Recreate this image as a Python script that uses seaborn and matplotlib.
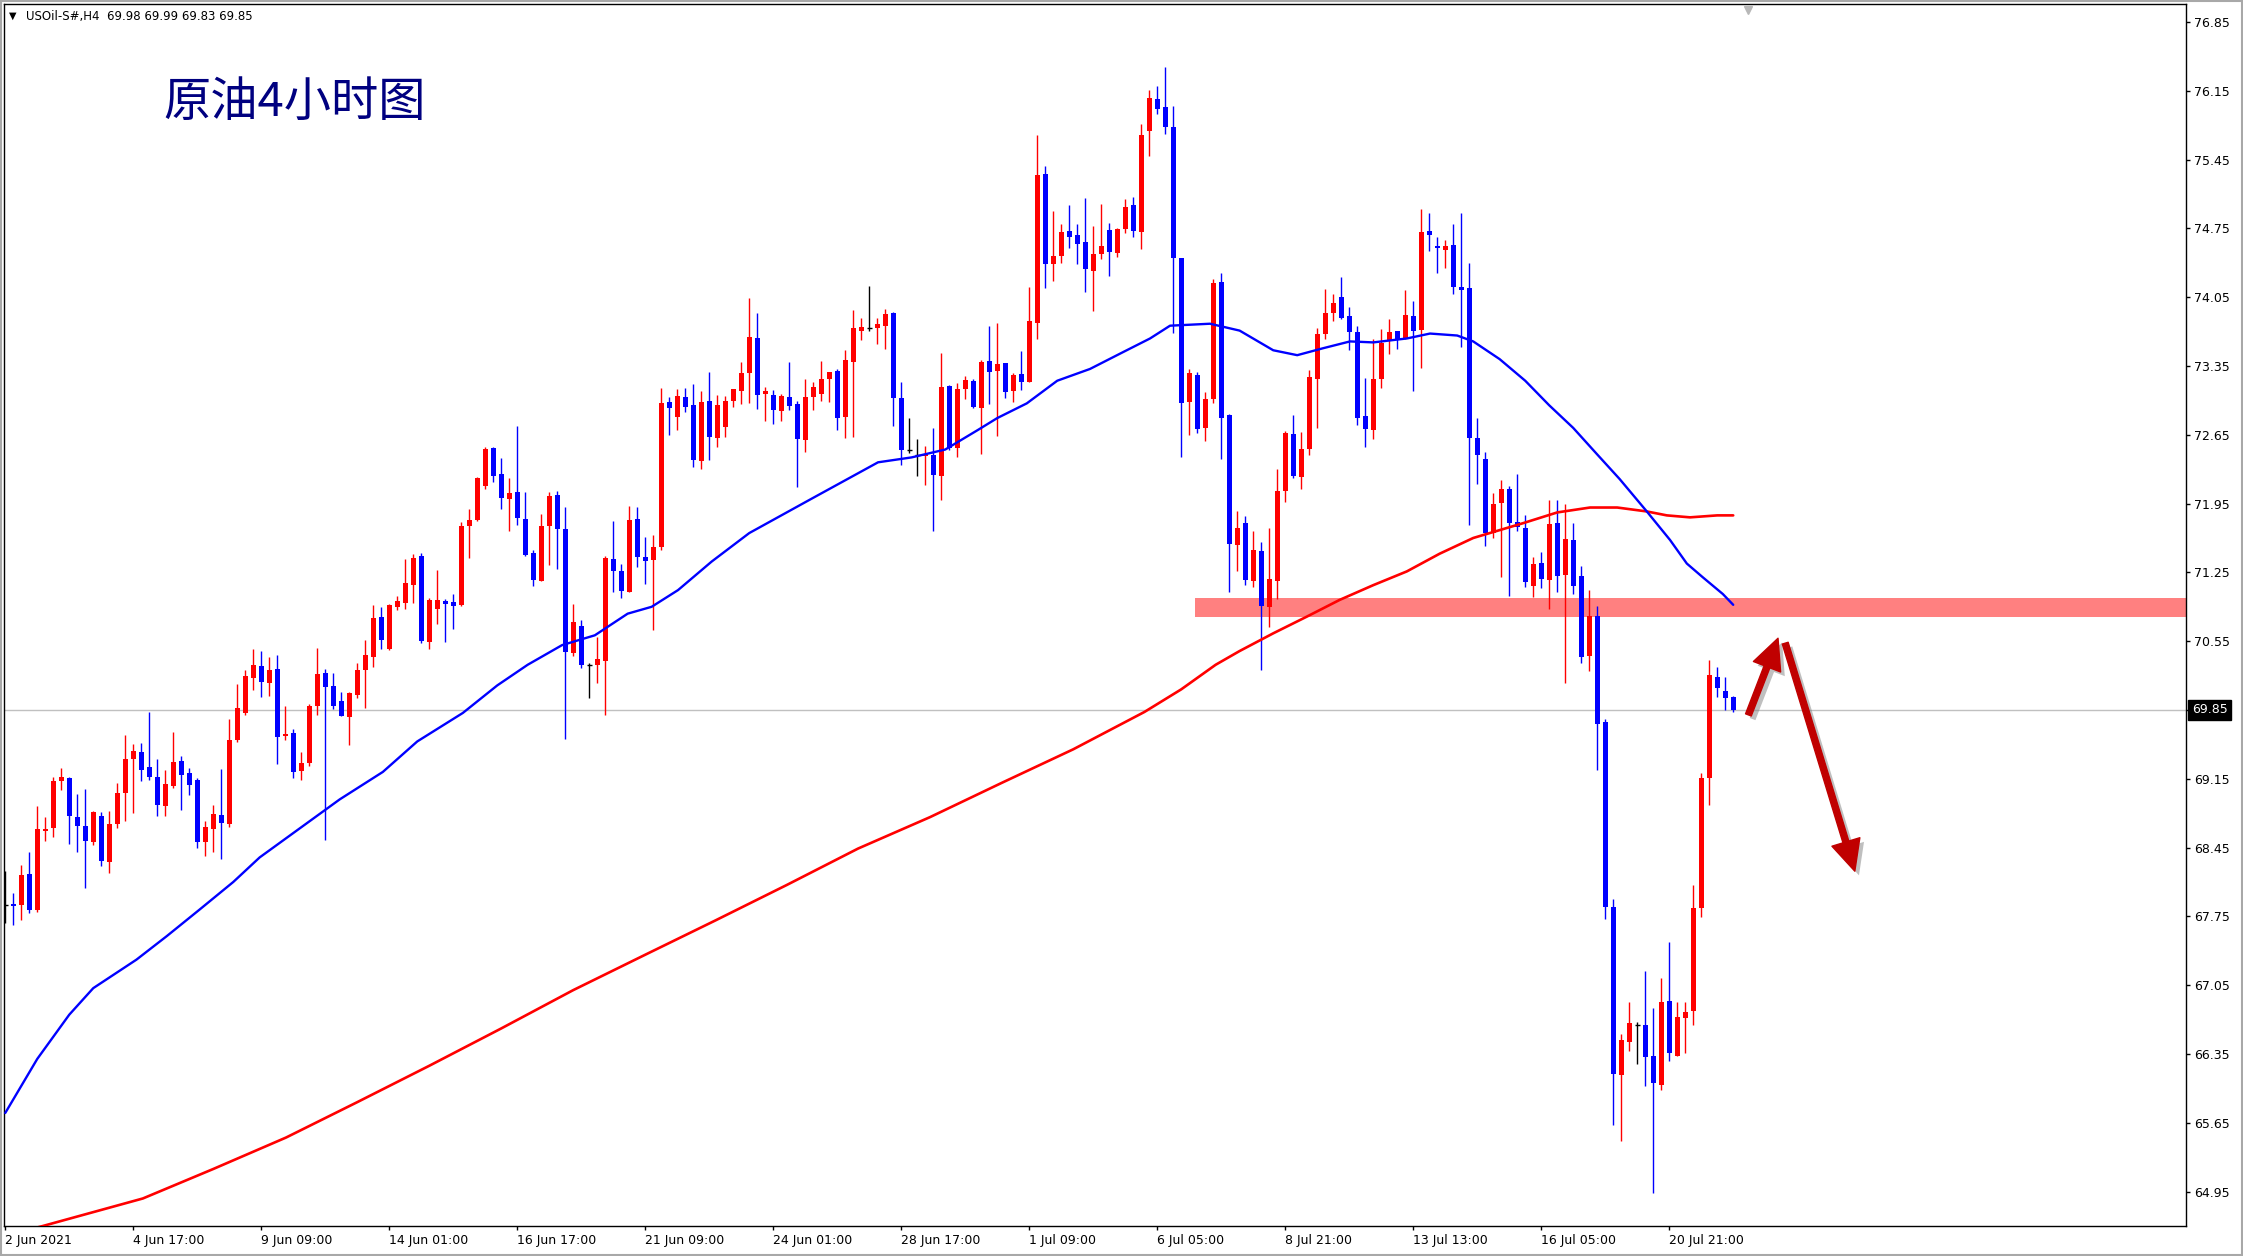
import numpy as np
import pandas as pd
import matplotlib
matplotlib.use("Agg")
import matplotlib.pyplot as plt
import matplotlib.patheffects as pe
from matplotlib.patches import Rectangle
from matplotlib.transforms import blended_transform_factory
import seaborn as sns

# H4 candles, USOil, 2 Jun 2021 -> 22 Jul 2021
opens = [
    67.87, 67.88, 67.87, 68.18, 67.82, 68.62, 68.65, 69.13, 69.16, 68.76,
    68.67, 68.51, 68.77, 68.30, 68.69, 69.01, 69.35, 69.42, 69.27, 69.17,
    68.87, 69.08, 69.33, 69.21, 69.14, 68.51, 68.64, 68.78, 68.69, 69.54,
    69.82, 70.18, 70.30, 70.12, 70.27, 69.59, 69.62, 69.23, 69.31, 69.89,
    70.23, 70.09, 69.94, 69.78, 70.00, 70.26, 70.39, 70.80, 70.47, 70.90,
    70.94, 71.12, 71.42, 70.54, 70.88, 70.96, 70.95, 70.92, 71.72, 71.78,
    72.13, 72.52, 72.25, 72.00, 72.07, 71.79, 71.45, 71.16, 71.72, 72.04,
    71.69, 70.43, 70.70, 70.31, 70.31, 70.35, 71.39, 71.26, 71.05, 71.79,
    71.41, 71.38, 71.51, 72.98, 72.83, 73.03, 72.95, 72.38, 72.99, 72.62,
    72.73, 72.99, 73.10, 73.28, 73.63, 73.06, 73.05, 72.89, 73.03, 72.96,
    72.60, 73.03, 73.07, 73.22, 73.30, 72.83, 73.39, 73.71, 73.74, 73.74,
    73.76, 73.89, 73.02, 72.50, 72.44, 72.43, 72.44, 72.23, 73.15, 72.52,
    73.12, 73.20, 72.92, 73.40, 73.30, 73.38, 73.10, 73.27, 73.19, 73.79,
    75.30, 74.39, 74.47, 74.72, 74.68, 74.61, 74.32, 74.49, 74.73, 74.50,
    74.74, 74.99, 74.71, 75.74, 76.07, 75.98, 75.78, 74.45, 72.98, 73.26,
    72.72, 73.01, 74.20, 72.85, 71.53, 71.75, 71.16, 71.47, 70.90, 71.16,
    72.08, 72.66, 72.22, 72.51, 73.22, 73.68, 73.89, 74.05, 73.86, 73.70,
    72.84, 72.70, 73.22, 73.61, 73.71, 73.63, 73.86, 73.72, 74.72, 74.57,
    74.53, 74.58, 74.15, 74.14, 72.62, 72.40, 71.65, 71.96, 72.10, 71.76,
    71.70, 71.11, 71.35, 71.17, 71.75, 71.22, 71.58, 71.21, 70.40, 70.81,
    69.73, 67.85, 66.14, 66.47, 66.65, 66.64, 66.33, 66.03, 66.89, 66.33,
    66.72, 66.79, 67.84, 69.16, 70.19, 70.04, 69.98,
]
highs = [
    68.21, 67.99, 68.27, 68.41, 68.87, 68.76, 69.17, 69.26, 69.17, 69.00,
    69.05, 68.82, 68.81, 68.82, 69.11, 69.60, 69.50, 69.51, 69.83, 69.35,
    69.24, 69.63, 69.38, 69.26, 69.16, 68.72, 68.88, 69.25, 69.76, 70.11,
    70.26, 70.47, 70.45, 70.39, 70.41, 69.89, 69.66, 69.42, 69.91, 70.48,
    70.27, 70.23, 70.03, 70.03, 70.33, 70.56, 70.92, 70.90, 70.93, 71.01,
    71.39, 71.44, 71.45, 70.99, 71.27, 70.98, 71.03, 71.76, 71.89, 72.22,
    72.53, 72.53, 72.41, 72.21, 72.74, 72.07, 71.48, 71.84, 72.07, 72.08,
    71.92, 70.93, 70.77, 70.33, 70.59, 71.42, 71.77, 71.34, 71.93, 71.92,
    71.61, 71.63, 73.13, 73.03, 73.12, 73.13, 73.17, 73.10, 73.29, 73.05,
    73.04, 73.12, 73.39, 74.04, 73.89, 73.14, 73.11, 73.07, 73.39, 72.99,
    73.22, 73.19, 73.40, 73.29, 73.32, 73.51, 73.92, 73.84, 74.16, 73.84,
    73.93, 73.90, 73.19, 72.82, 72.61, 72.54, 72.72, 73.48, 73.16, 73.18,
    73.25, 73.22, 73.41, 73.76, 73.79, 73.38, 73.28, 73.50, 74.15, 75.70,
    75.38, 74.93, 74.79, 74.99, 74.79, 75.06, 74.77, 75.00, 74.80, 74.75,
    75.05, 75.07, 75.81, 76.16, 76.20, 76.39, 76.00, 74.45, 73.32, 73.29,
    73.09, 74.23, 74.30, 72.86, 71.87, 71.82, 71.67, 71.56, 71.70, 72.30,
    72.69, 72.85, 72.68, 73.31, 73.74, 74.13, 74.08, 74.26, 73.95, 73.76,
    73.23, 73.62, 73.73, 73.83, 73.71, 74.12, 74.01, 74.95, 74.91, 74.66,
    74.63, 74.79, 74.91, 74.40, 72.82, 72.47, 72.06, 72.19, 72.13, 72.25,
    71.83, 71.41, 71.46, 71.99, 71.99, 71.95, 71.75, 71.32, 71.07, 70.91,
    69.76, 67.93, 66.55, 66.88, 66.68, 67.19, 66.82, 67.12, 67.49, 66.88,
    66.88, 68.07, 69.21, 70.36, 70.29, 70.19, 69.99,
]
lows = [
    67.68, 67.66, 67.71, 67.78, 67.79, 68.52, 68.56, 69.04, 68.49, 68.41,
    68.04, 68.48, 68.26, 68.19, 68.65, 68.72, 68.80, 69.13, 69.14, 68.77,
    68.77, 69.06, 68.83, 68.99, 68.45, 68.36, 68.41, 68.33, 68.66, 69.52,
    69.80, 70.05, 69.98, 69.99, 69.30, 69.54, 69.16, 69.14, 69.28, 69.80,
    68.53, 69.86, 69.79, 69.49, 69.97, 69.87, 70.29, 70.47, 70.46, 70.87,
    70.88, 70.94, 70.53, 70.47, 70.72, 70.54, 70.67, 70.91, 71.40, 71.77,
    72.10, 72.17, 71.89, 71.67, 71.73, 71.42, 71.11, 71.16, 71.33, 71.28,
    69.55, 70.40, 70.28, 69.97, 70.12, 69.80, 71.05, 70.99, 71.05, 71.30,
    71.13, 70.66, 71.48, 72.65, 72.70, 72.88, 72.32, 72.30, 72.39, 72.53,
    72.63, 72.93, 72.96, 72.97, 72.91, 72.79, 72.76, 72.79, 72.90, 72.12,
    72.47, 72.90, 72.99, 72.98, 72.70, 72.62, 72.63, 73.61, 73.71, 73.57,
    73.52, 72.74, 72.34, 72.46, 72.23, 72.14, 71.67, 71.99, 72.50, 72.42,
    73.01, 72.92, 72.45, 72.96, 72.64, 73.02, 72.98, 73.11, 73.19, 73.62,
    74.14, 74.21, 74.40, 74.55, 74.39, 74.10, 73.91, 74.44, 74.27, 74.46,
    74.70, 74.66, 74.54, 75.49, 75.91, 75.71, 73.69, 72.42, 72.65, 72.67,
    72.59, 72.97, 72.40, 71.05, 71.26, 71.12, 71.10, 70.26, 70.69, 70.98,
    71.97, 72.21, 72.10, 72.44, 72.72, 73.62, 73.81, 73.83, 73.51, 72.75,
    72.53, 72.61, 73.13, 73.47, 73.52, 73.62, 73.10, 73.33, 74.52, 74.30,
    74.35, 74.08, 73.54, 71.73, 72.15, 71.52, 71.60, 71.20, 71.01, 71.67,
    71.10, 71.00, 71.09, 70.88, 71.05, 70.12, 71.03, 70.33, 70.25, 69.24,
    67.72, 65.63, 65.46, 66.38, 66.25, 66.02, 64.94, 65.98, 66.28, 66.33,
    66.36, 66.65, 67.74, 68.88, 69.98, 69.85, 69.83,
]
closes = [
    67.87, 67.86, 68.17, 67.81, 68.64, 68.64, 69.13, 69.17, 68.77, 68.67,
    68.52, 68.81, 68.31, 68.69, 69.01, 69.35, 69.43, 69.24, 69.17, 68.88,
    69.10, 69.32, 69.19, 69.09, 68.51, 68.66, 68.79, 68.70, 69.54, 69.87,
    70.20, 70.31, 70.13, 70.26, 69.58, 69.61, 69.22, 69.31, 69.89, 70.22,
    70.08, 69.89, 69.79, 70.02, 70.26, 70.41, 70.79, 70.56, 70.92, 70.96,
    71.14, 71.40, 70.55, 70.97, 70.97, 70.93, 70.91, 71.72, 71.78, 72.21,
    72.51, 72.23, 72.01, 72.06, 71.80, 71.43, 71.17, 71.72, 72.03, 71.69,
    70.44, 70.75, 70.31, 70.31, 70.37, 71.40, 71.26, 71.06, 71.78, 71.41,
    71.37, 71.51, 72.97, 72.92, 73.04, 72.93, 72.39, 72.98, 72.63, 72.95,
    72.99, 73.12, 73.28, 73.64, 73.05, 73.10, 72.90, 73.04, 72.94, 72.61,
    73.03, 73.14, 73.22, 73.29, 72.82, 73.41, 73.74, 73.75, 73.74, 73.78,
    73.88, 73.02, 72.50, 72.50, 72.44, 72.45, 72.24, 73.14, 72.52, 73.12,
    73.21, 72.93, 73.39, 73.29, 73.37, 73.09, 73.26, 73.19, 73.81, 75.29,
    74.39, 74.47, 74.71, 74.66, 74.59, 74.34, 74.49, 74.57, 74.51, 74.74,
    74.97, 74.72, 75.70, 76.08, 75.96, 75.78, 74.45, 72.97, 73.28, 72.71,
    73.01, 74.19, 72.82, 71.54, 71.70, 71.17, 71.48, 70.91, 71.18, 72.08,
    72.67, 72.23, 72.51, 73.24, 73.68, 73.89, 73.99, 73.84, 73.70, 72.82,
    72.71, 73.22, 73.58, 73.70, 73.62, 73.87, 73.71, 74.71, 74.68, 74.55,
    74.57, 74.15, 74.12, 72.62, 72.44, 71.65, 71.95, 72.10, 71.75, 71.71,
    71.15, 71.34, 71.18, 71.74, 71.21, 71.59, 71.11, 70.39, 70.81, 69.71,
    67.85, 66.15, 66.49, 66.67, 66.65, 66.32, 66.05, 66.88, 66.36, 66.73,
    66.78, 67.84, 69.16, 70.21, 70.07, 69.97, 69.85,
]

# moving averages, sampled along the drawn lines (bar index, price)
ma_fast_idx = [0, 4, 8, 11, 16.4, 20.2, 24.3, 28.5, 31.8, 41.8, 47.2, 51.5, 57.2, 61.5,
               65.3, 69.6, 73.7, 77.8, 80.8, 84.1, 88.3, 93, 100.8, 109.1, 113.3, 117.5,
               121.6, 124, 127.7, 131.5, 135.6, 139.7, 143.1, 145.6, 150.6, 154.3, 158.5,
               161.5, 164.7, 168.1, 171, 175.2, 178.1, 181.5, 183.5, 186.8, 190, 193, 196,
               199, 201.8, 205.2, 208.1, 210.2, 212.2, 214.7, 216]
ma_fast_val = [65.75, 66.30, 66.75, 67.02, 67.31, 67.55, 67.82, 68.10, 68.35, 68.94, 69.22,
               69.53, 69.82, 70.10, 70.31, 70.51, 70.61, 70.83, 70.90, 71.07, 71.36, 71.65,
               72.00, 72.37, 72.42, 72.50, 72.70, 72.82, 72.97, 73.20, 73.32, 73.49, 73.63,
               73.76, 73.78, 73.71, 73.51, 73.46, 73.53, 73.60, 73.59, 73.63, 73.68, 73.66,
               73.60, 73.42, 73.20, 72.95, 72.72, 72.45, 72.20, 71.87, 71.58, 71.34, 71.20,
               71.03, 70.92]
ma_slow_idx = [0, 4.7, 17.2, 26, 35.1, 44, 53, 62, 71, 80, 88.8, 97.7, 106.6, 115.6, 124.6,
               133.5, 142.4, 147, 151.3, 154.3, 158.5, 162.7, 166.8, 171, 175.2, 179.3,
               183.5, 186.8, 189.7, 194, 198.1, 201.5, 205.2, 207.7, 210.6, 214, 216]
ma_slow_val = [64.50, 64.60, 64.88, 65.18, 65.50, 65.86, 66.23, 66.61, 67.00, 67.36, 67.71,
               68.07, 68.44, 68.76, 69.11, 69.45, 69.83, 70.06, 70.31, 70.45, 70.63, 70.80,
               70.97, 71.12, 71.26, 71.44, 71.60, 71.68, 71.75, 71.86, 71.91, 71.91, 71.87,
               71.83, 71.81, 71.83, 71.83]

x_tick_idx = [0, 16, 32, 48, 64, 80, 96, 112, 128, 144, 160, 176, 192, 208]
x_tick_labels = ["2 Jun 2021", "4 Jun 17:00", "9 Jun 09:00", "14 Jun 01:00",
                 "16 Jun 17:00", "21 Jun 09:00", "24 Jun 01:00", "28 Jun 17:00",
                 "1 Jul 09:00", "6 Jul 05:00", "8 Jul 21:00", "13 Jul 13:00",
                 "16 Jul 05:00", "20 Jul 21:00"]
price_ticks = [64.95, 65.65, 66.35, 67.05, 67.75, 68.45, 69.15, 69.85,
               70.55, 71.25, 71.95, 72.65, 73.35, 74.05, 74.75, 75.45, 76.15, 76.85]

last_price = 69.85
zone_low, zone_high, zone_start = 70.80, 70.99, 148.7

sns.set_theme(style="white")
plt.rcParams["font.family"] = ["DejaVu Sans", "Noto Sans CJK SC"]

df = pd.DataFrame({"open": opens, "high": highs, "low": lows, "close": closes})
df["idx"] = np.arange(len(df))
df["color"] = np.where(df["close"] > df["open"], "#FF0000",
                       np.where(df["close"] < df["open"], "#0000FF", "#000000"))

fig = plt.figure(figsize=(22.43, 12.56), dpi=100)
ax = fig.add_axes([0.00192, 0.02389, 0.97267, 0.97269])

# support / resistance zone
ax.add_patch(Rectangle((zone_start, zone_low), 400, zone_high - zone_low,
                       facecolor="#FF8080", edgecolor="none", zorder=1))
ax.axhline(last_price, color="#C0C0C0", lw=1, zorder=1.5)

# candles
ax.vlines(df["idx"], df["low"], df["high"], colors=df["color"], lw=1.0, zorder=2)
body = df[df["close"] != df["open"]]
ax.bar(body["idx"], (body["close"] - body["open"]).abs(),
       bottom=np.minimum(body["open"], body["close"]), width=0.62,
       color=body["color"], linewidth=0, zorder=2.2)
doji = df[df["close"] == df["open"]]
ax.hlines(doji["close"], doji["idx"] - 0.31, doji["idx"] + 0.31, colors="#000000",
          lw=1.0, zorder=2.2)

# moving averages
fast = pd.DataFrame({"idx": ma_fast_idx, "val": ma_fast_val})
slow = pd.DataFrame({"idx": ma_slow_idx, "val": ma_slow_val})
sns.lineplot(data=slow, x="idx", y="val", ax=ax, color="#FF0000", lw=1.9, zorder=3)
sns.lineplot(data=fast, x="idx", y="val", ax=ax, color="#0000FF", lw=1.7, zorder=3)

# arrows
arrow_style = "simple,head_length=1.1,head_width=1.05,tail_width=0.22"
shadow = [pe.withSimplePatchShadow(offset=(3, -3), shadow_rgbFace="#808080", alpha=0.5)]
for tail, tip in [((217.9, 69.80), (221.6, 70.58)), ((222.5, 70.53), (231.2, 68.21))]:
    ax.annotate("", xy=tip, xytext=tail,
                arrowprops=dict(arrowstyle=arrow_style, color="#C00000", mutation_scale=20,
                                shrinkA=0, shrinkB=0, path_effects=shadow), zorder=5)

ax.set_xlim(-0.12, 272.6)
ax.set_ylim(64.60, 77.03)
ax.set_xlabel("")
ax.set_ylabel("")

ax.set_xticks(x_tick_idx)
ax.set_xticklabels(x_tick_labels, ha="left", fontsize=9)
ax.yaxis.tick_right()
ax.set_yticks(price_ticks)
ax.set_yticklabels([f"{v:.2f}" for v in price_ticks], fontsize=9)
ax.tick_params(axis="x", direction="out", length=3, width=1, pad=3, colors="black",
               bottom=True)
ax.tick_params(axis="y", direction="out", length=3, width=1, pad=3, colors="black",
               right=True, left=False)
for s in ax.spines.values():
    s.set_color("black")
    s.set_linewidth(1)
ax.grid(False)

# current price tag
trans = blended_transform_factory(ax.transAxes, ax.transData)
ax.text(1.0027, last_price, f"{last_price:.2f}", transform=trans, ha="left", va="center",
        fontsize=9, color="white", zorder=10, clip_on=False,
        bbox=dict(boxstyle="square,pad=0.28", fc="black", ec="black"))

# chart shift marker
ax.plot([217.8], [76.97], marker="v", ms=6, color="#B8B8B8", clip_on=False, zorder=6)

# header and title
fig.text(0.0042, 0.9872, "\u25bc", fontsize=7, color="black", va="center")
fig.text(0.0116, 0.9866, "USOil-S#,H4  69.98 69.99 69.83 69.85", fontsize=8.5,
         color="black", va="center")
fig.text(0.0727, 0.9185, "原油4小时图", fontsize=34, color="#000080", va="center",
         family=["Noto Sans CJK SC", "DejaVu Sans"], fontweight="light")

fig.patches.append(Rectangle((0.0004, 0.0006), 0.9992, 0.9988, transform=fig.transFigure,
                             fill=False, edgecolor="#A8A8A8", lw=1.5))

fig.savefig("out.png", dpi=100)
